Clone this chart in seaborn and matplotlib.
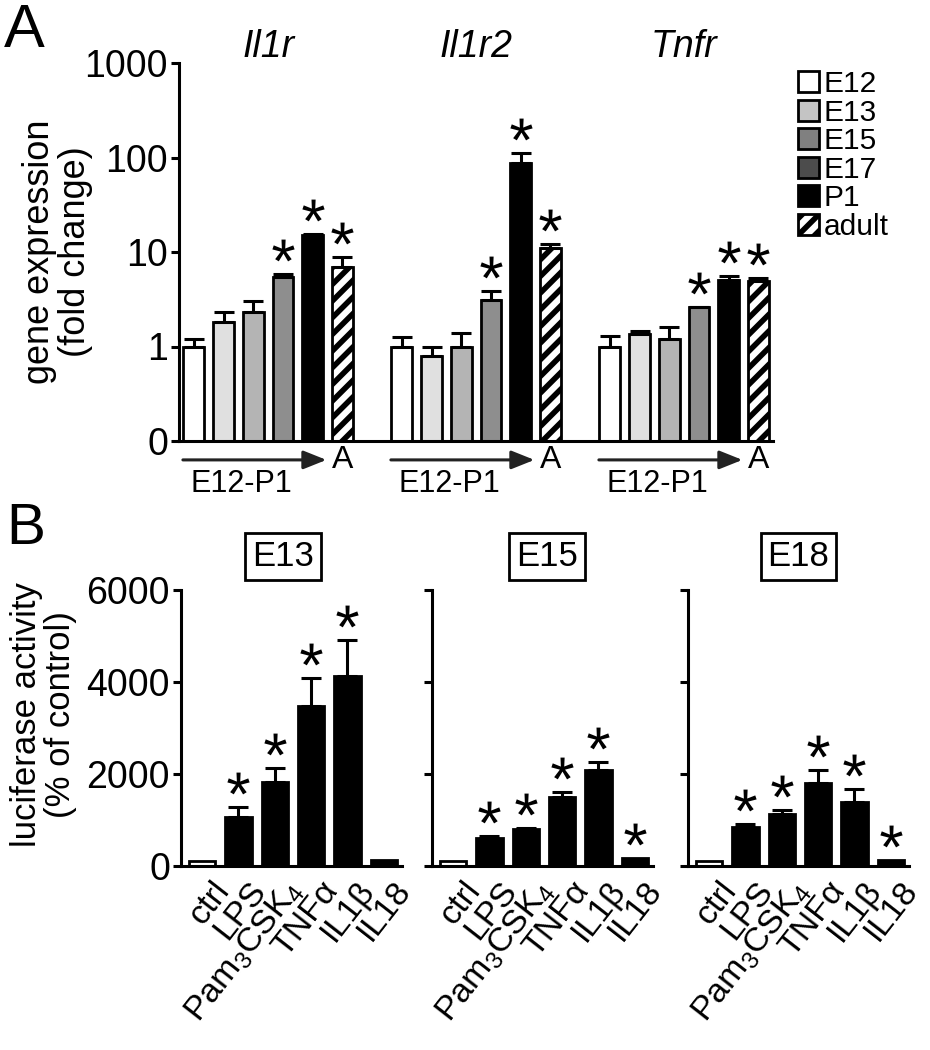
import numpy as np
import pandas as pd
import seaborn as sns
import matplotlib.pyplot as plt
from matplotlib import transforms
from matplotlib.patches import Patch
from matplotlib.ticker import NullLocator

# -----------------------------
# data
# -----------------------------
genes = ["Il1r", "Il1r2", "Tnfr"]
stages = ["E12", "E13", "E15", "E17", "P1", "adult"]
stage_colors = ["white", "#e0e0e0", "#b4b4b4", "#8e8e8e", "black", "white"]
legend_colors = ["white", "#c4c4c4", "#808080", "#4c4c4c", "black", "white"]

il1r_mean = [1.0, 1.8, 2.3, 5.5, 15.0, 7.0]
il1r_sem = [0.2, 0.5, 0.7, 0.4, 0.6, 1.8]
il1r2_mean = [1.0, 0.8, 1.0, 3.1, 88.0, 10.9]
il1r2_sem = [0.25, 0.2, 0.4, 0.8, 24.0, 1.3]
tnfr_mean = [1.0, 1.34, 1.2, 2.6, 5.0, 4.9]
tnfr_sem = [0.3, 0.12, 0.4, 0.05, 0.6, 0.35]
sig_a = [False, False, False, True, True, True]

treatments = ["ctrl", "LPS", "Pam$_3$CSK$_4$", "TNFα", "IL1β", "IL18"]
ages = ["E13", "E15", "E18"]
e13_mean = [100, 1050, 1815, 3475, 4130, 130]
e13_sem = [0, 220, 310, 615, 775, 0]
e13_sig = [False, True, True, True, True, False]
e15_mean = [100, 610, 800, 1495, 2090, 160]
e15_sem = [0, 35, 30, 115, 175, 0]
e15_sig = [False, True, True, True, True, True]
e18_mean = [100, 835, 1130, 1790, 1380, 130]
e18_sem = [0, 65, 75, 285, 285, 0]
e18_sig = [False, True, True, True, True, True]

sns.set_style("ticks")
plt.rcParams["font.family"] = ["Liberation Sans", "DejaVu Sans"]
plt.rcParams["mathtext.default"] = "regular"
plt.rcParams["hatch.linewidth"] = 4
plt.rcParams["axes.linewidth"] = 2.2
for key in ["text.color", "axes.labelcolor", "axes.edgecolor", "xtick.color", "ytick.color"]:
    plt.rcParams[key] = "black"

fig = plt.figure(figsize=(9.3, 10.5), dpi=100)


def add_errs_and_stars(ax, x, top, sem, sig):
    if sem > 0:
        ax.errorbar(x, top, yerr=[[0], [sem]], fmt="none", ecolor="black",
                    elinewidth=2.2, capsize=7, capthick=2.2, zorder=3)
    if sig:
        tr = transforms.offset_copy(ax.transData, fig=fig, x=0, y=24, units="dots")
        ax.plot(x, top + sem, marker="$*$", ms=16, mew=0, color="black",
                transform=tr, clip_on=False)


# -----------------------------
# A: gene expression, log scale
# -----------------------------
axA = fig.add_axes([0.1925, 0.58, 0.639, 0.36])
dfA = pd.DataFrame({
    "gene": np.repeat(genes, len(stages)),
    "stage": stages * len(genes),
    "value": il1r_mean + il1r2_mean + tnfr_mean,
})
sns.barplot(data=dfA, x="gene", y="value", hue="stage", hue_order=stages,
            palette=stage_colors, saturation=1, width=6 / 7, gap=0.3,
            edgecolor="black", linewidth=2, errorbar=None, legend=False, ax=axA)
axA.set_yscale("log")
axA.set_ylim(0.1, 1000)
axA.set_xlim(-3 / 7, 2 + 3 / 7)
axA.set_yticks([0.1, 1, 10, 100, 1000])
axA.set_yticklabels(["0", "1", "10", "100", "1000"])
axA.yaxis.set_minor_locator(NullLocator())
axA.set_xticks([])
axA.set_xlabel("")
axA.tick_params(axis="y", length=6, width=2.2, labelsize=27, pad=2)
axA.set_ylabel("gene expression\n(fold change)", fontsize=26, linespacing=1.05)
axA.yaxis.set_label_coords(-0.145, 0.5)
sns.despine(ax=axA)

sems_a = [il1r_sem, il1r2_sem, tnfr_sem]
bar_conts = list(axA.containers)
for i, cont in enumerate(bar_conts):
    for bar in list(cont):
        x = bar.get_x() + bar.get_width() / 2
        j = int(round(x))
        if stages[i] == "adult":
            bar.set_hatch("//")
        add_errs_and_stars(axA, x, bar.get_height(), sems_a[j][i], sig_a[i])

slot = 1 / 7
tr_bx = transforms.blended_transform_factory(axA.transData, axA.transAxes)
for j, g in enumerate(genes):
    c0 = j - 3 / 7 + slot / 2
    axA.text(j, 1.042, g, transform=tr_bx, ha="center", va="center",
             fontsize=27, style="italic")
    axA.annotate("", xy=(c0 + 4.46 * slot, -0.05), xytext=(c0 - 0.37 * slot, -0.05),
                 xycoords=tr_bx, textcoords=tr_bx, annotation_clip=False,
                 arrowprops=dict(arrowstyle="-|>,head_length=0.7,head_width=0.28",
                                 color="#222222", lw=2.2, mutation_scale=20,
                                 shrinkA=0, shrinkB=0))
    axA.text(c0 + 5 * slot, -0.05, "A", transform=tr_bx, ha="center",
             va="center", fontsize=23)
    axA.text(c0 + 1.6 * slot, -0.115, "E12-P1", transform=tr_bx, ha="center",
             va="center", fontsize=22)

handles = [Patch(facecolor=c, edgecolor="black", lw=2,
                 hatch="//" if s == "adult" else None, label=s)
           for s, c in zip(stages, legend_colors)]
fig.legend(handles=handles, loc="upper left", bbox_to_anchor=(798 / 930, 1 - 70 / 1050),
           frameon=False, fontsize=21.5, handlelength=0.7, handleheight=0.7,
           handletextpad=0.15, labelspacing=0.02, borderaxespad=0, borderpad=0)

fig.text(0.004, 0.997, "A", fontsize=44, ha="left", va="top")
fig.text(0.007, 0.522, "B", fontsize=42, ha="left", va="top")

# -----------------------------
# B: luciferase activity
# -----------------------------
b_means = [e13_mean, e15_mean, e18_mean]
b_sems = [e13_sem, e15_sem, e18_sem]
b_sigs = [e13_sig, e15_sig, e18_sig]
b_lefts = [181 / 930, 432 / 930, 688 / 930]
box_x = [0.46, 0.52, 0.5]
shift = transforms.ScaledTranslation(9 / 100, -4 / 100, fig.dpi_scale_trans)

for k, age in enumerate(ages):
    ax = fig.add_axes([b_lefts[k], 0.1755, 221 / 930, 0.2626])
    sns.barplot(x=treatments, y=b_means[k], color="black", saturation=1,
                width=0.72, edgecolor="black", linewidth=2, errorbar=None, ax=ax)
    bars = list(ax.patches)
    bars[0].set_facecolor("white")
    for i, bar in enumerate(bars):
        x = bar.get_x() + bar.get_width() / 2
        add_errs_and_stars(ax, x, bar.get_height(), b_sems[k][i], b_sigs[k][i])
    ax.set_ylim(0, 6000)
    ax.set_xlim(-0.58, 5.5)
    ax.set_yticks([0, 2000, 4000, 6000])
    ax.tick_params(axis="y", length=6, width=2.2, labelsize=27, pad=2)
    ax.tick_params(axis="x", length=0, labelsize=24.5, pad=4)
    for lbl in ax.get_xticklabels():
        lbl.set_rotation(52)
        lbl.set_ha("right")
        lbl.set_rotation_mode("anchor")
        lbl.set_transform(lbl.get_transform() + shift)
    if k > 0:
        ax.tick_params(labelleft=False)
    else:
        ax.set_ylabel("luciferase activity\n(% of control)", fontsize=25,
                      linespacing=1.05)
        ax.yaxis.set_label_coords(-0.47, 0.55)
    ax.text(box_x[k], 1.12, age, transform=ax.transAxes, ha="center", va="center",
            fontsize=25, bbox=dict(boxstyle="square,pad=0.2", fc="white",
                                   ec="black", lw=2))
    sns.despine(ax=ax)

plt.savefig("out.png", dpi=100)
plt.close()
